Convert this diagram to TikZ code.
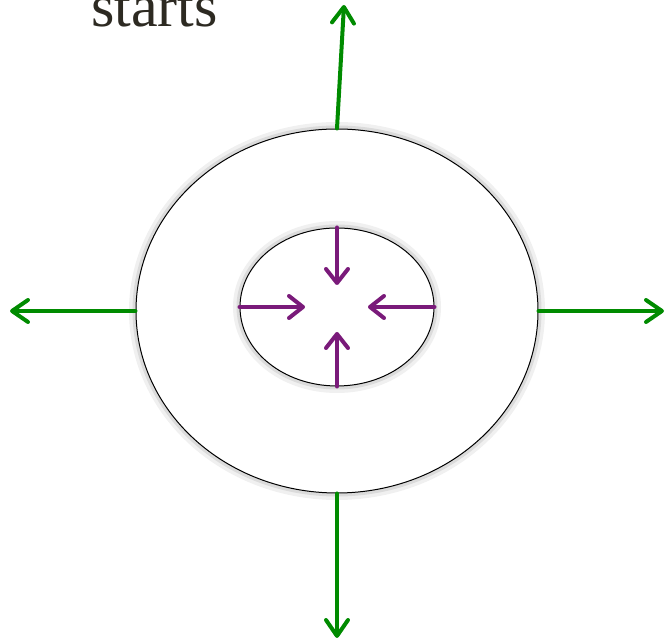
\documentclass[tikz,border=0pt]{standalone}
\usepackage{fontspec}
\setmainfont{Liberation Serif}
\usetikzlibrary{shapes.geometric,arrows.meta}
\definecolor{growgreen}{RGB}{0,139,0}
\definecolor{shrinkpurple}{RGB}{122,26,122}
\definecolor{inkdark}{RGB}{45,42,34}

\begin{document}
\begin{tikzpicture}[x=0.5pt, y=0.5pt,
  glow/.style={ellipse, inner sep=0pt, draw=black, line width=0.5pt, fill=white,
    preaction={draw=black!6, line width=7pt},
    preaction={draw=black!14, line width=3.5pt}},
  outarrow/.style={draw=growgreen, line width=2pt, line cap=round,
    -{Straight Barb[length=8pt, width=11pt, line cap=round, line join=round]}},
  inarrow/.style={draw=shrinkpurple, line width=2pt, line cap=round,
    -{Straight Barb[length=7pt, width=11pt, line cap=round, line join=round]}}]
  \useasboundingbox (0,0) rectangle (666,642);
  \clip (0,0) rectangle (666,642);
  \node[font=\fontsize{30}{34}\selectfont, text=inkdark, anchor=base, inner sep=0pt] (title) at (154.5,615) {starts};
  % ring and hole
  \node[glow, minimum width=201pt, minimum height=182pt] (ring) at (337,331) {};
  \node[glow, minimum width=97pt, minimum height=79pt] (hole) at (337,335) {};
  % ends of the arrows
  \coordinate (up)    at (344,637);
  \coordinate (left)  at (10,331);
  \coordinate (right) at (664,331);
  \coordinate (down)  at (337,4);
  \coordinate (c-n) at (337,357);
  \coordinate (c-w) at (305,335);
  \coordinate (c-e) at (368,335);
  \coordinate (c-s) at (337,310);
  \draw[outarrow] (ring.north) -- (up);
  \draw[outarrow] (ring.west) -- (left);
  \draw[outarrow] (ring.east) -- (right);
  \draw[outarrow] (ring.south) -- (down);
  \draw[inarrow] (hole.north) -- (c-n);
  \draw[inarrow] (hole.west) -- (c-w);
  \draw[inarrow] (hole.east) -- (c-e);
  \draw[inarrow] (hole.south) -- (c-s);
\end{tikzpicture}
\end{document}
